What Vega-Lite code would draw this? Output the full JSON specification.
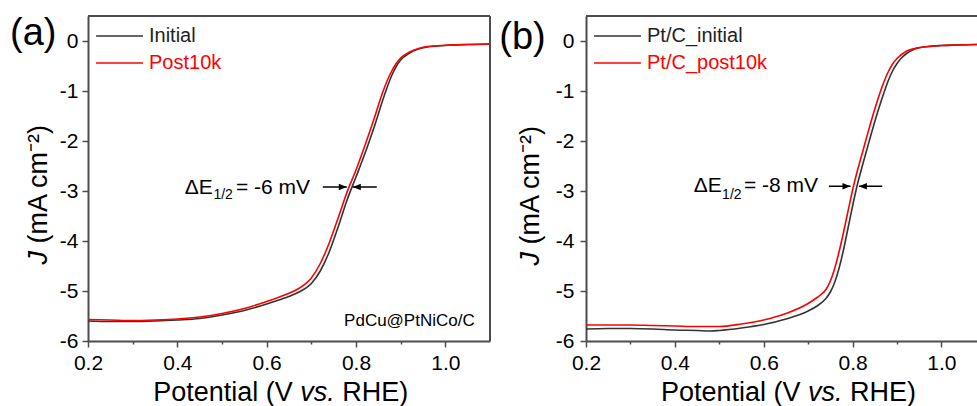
{
  "$schema": "https://vega.github.io/schema/vega-lite/v6.json",
  "background": "white",
  "padding": {"left": 10, "top": 14, "right": 0, "bottom": 0},
  "config": {
    "font": "Liberation Sans",
    "view": {"stroke": null},
    "axis": {"domainColor": "#4d4d4d", "domainWidth": 2, "tickColor": "#4d4d4d", "tickWidth": 1.5, "labelFont": "Liberation Sans", "labelFontSize": 21, "labelColor": "#000000", "grid": false, "labelOverlap": false, "labelFlush": false, "labelBound": false, "title": null},
    "text": {"font": "Liberation Sans", "color": "#000000"}
  },
  "datasets": {
    "curveA": [
      {"series": "Initial", "E": 0.20, "J": -5.60}, {"series": "Initial", "E": 0.25, "J": -5.61}, {"series": "Initial", "E": 0.30, "J": -5.61}, {"series": "Initial", "E": 0.35, "J": -5.60}, {"series": "Initial", "E": 0.40, "J": -5.58}, {"series": "Initial", "E": 0.45, "J": -5.55}, {"series": "Initial", "E": 0.50, "J": -5.48}, {"series": "Initial", "E": 0.55, "J": -5.39}, {"series": "Initial", "E": 0.60, "J": -5.26}, {"series": "Initial", "E": 0.64, "J": -5.14}, {"series": "Initial", "E": 0.67, "J": -5.03}, {"series": "Initial", "E": 0.70, "J": -4.85}, {"series": "Initial", "E": 0.72, "J": -4.60}, {"series": "Initial", "E": 0.74, "J": -4.22}, {"series": "Initial", "E": 0.76, "J": -3.72}, {"series": "Initial", "E": 0.78, "J": -3.18}, {"series": "Initial", "E": 0.80, "J": -2.72}, {"series": "Initial", "E": 0.82, "J": -2.25}, {"series": "Initial", "E": 0.84, "J": -1.74}, {"series": "Initial", "E": 0.86, "J": -1.18}, {"series": "Initial", "E": 0.87, "J": -0.92}, {"series": "Initial", "E": 0.88, "J": -0.69}, {"series": "Initial", "E": 0.89, "J": -0.51}, {"series": "Initial", "E": 0.90, "J": -0.38}, {"series": "Initial", "E": 0.92, "J": -0.24}, {"series": "Initial", "E": 0.94, "J": -0.16}, {"series": "Initial", "E": 0.96, "J": -0.12}, {"series": "Initial", "E": 1.00, "J": -0.09}, {"series": "Initial", "E": 1.05, "J": -0.07}, {"series": "Initial", "E": 1.10, "J": -0.06},
      {"series": "Post10k", "E": 0.20, "J": -5.57}, {"series": "Post10k", "E": 0.25, "J": -5.58}, {"series": "Post10k", "E": 0.30, "J": -5.59}, {"series": "Post10k", "E": 0.35, "J": -5.58}, {"series": "Post10k", "E": 0.40, "J": -5.56}, {"series": "Post10k", "E": 0.45, "J": -5.52}, {"series": "Post10k", "E": 0.50, "J": -5.45}, {"series": "Post10k", "E": 0.55, "J": -5.35}, {"series": "Post10k", "E": 0.60, "J": -5.21}, {"series": "Post10k", "E": 0.64, "J": -5.08}, {"series": "Post10k", "E": 0.67, "J": -4.96}, {"series": "Post10k", "E": 0.70, "J": -4.74}, {"series": "Post10k", "E": 0.72, "J": -4.45}, {"series": "Post10k", "E": 0.74, "J": -4.04}, {"series": "Post10k", "E": 0.76, "J": -3.54}, {"series": "Post10k", "E": 0.78, "J": -3.02}, {"series": "Post10k", "E": 0.80, "J": -2.58}, {"series": "Post10k", "E": 0.82, "J": -2.09}, {"series": "Post10k", "E": 0.84, "J": -1.57}, {"series": "Post10k", "E": 0.86, "J": -1.02}, {"series": "Post10k", "E": 0.87, "J": -0.79}, {"series": "Post10k", "E": 0.88, "J": -0.60}, {"series": "Post10k", "E": 0.89, "J": -0.45}, {"series": "Post10k", "E": 0.90, "J": -0.34}, {"series": "Post10k", "E": 0.92, "J": -0.22}, {"series": "Post10k", "E": 0.94, "J": -0.15}, {"series": "Post10k", "E": 0.96, "J": -0.11}, {"series": "Post10k", "E": 1.00, "J": -0.085}, {"series": "Post10k", "E": 1.05, "J": -0.07}, {"series": "Post10k", "E": 1.10, "J": -0.06}
    ],
    "curveB": [
      {"series": "Pt/C_initial", "E": 0.20, "J": -5.76}, {"series": "Pt/C_initial", "E": 0.25, "J": -5.75}, {"series": "Pt/C_initial", "E": 0.30, "J": -5.75}, {"series": "Pt/C_initial", "E": 0.35, "J": -5.76}, {"series": "Pt/C_initial", "E": 0.40, "J": -5.78}, {"series": "Pt/C_initial", "E": 0.45, "J": -5.79}, {"series": "Pt/C_initial", "E": 0.48, "J": -5.80}, {"series": "Pt/C_initial", "E": 0.50, "J": -5.79}, {"series": "Pt/C_initial", "E": 0.55, "J": -5.74}, {"series": "Pt/C_initial", "E": 0.60, "J": -5.67}, {"series": "Pt/C_initial", "E": 0.65, "J": -5.56}, {"series": "Pt/C_initial", "E": 0.70, "J": -5.40}, {"series": "Pt/C_initial", "E": 0.72, "J": -5.30}, {"series": "Pt/C_initial", "E": 0.74, "J": -5.15}, {"series": "Pt/C_initial", "E": 0.75, "J": -5.02}, {"series": "Pt/C_initial", "E": 0.76, "J": -4.82}, {"series": "Pt/C_initial", "E": 0.77, "J": -4.53}, {"series": "Pt/C_initial", "E": 0.78, "J": -4.16}, {"series": "Pt/C_initial", "E": 0.79, "J": -3.73}, {"series": "Pt/C_initial", "E": 0.80, "J": -3.30}, {"series": "Pt/C_initial", "E": 0.81, "J": -2.90}, {"series": "Pt/C_initial", "E": 0.82, "J": -2.56}, {"series": "Pt/C_initial", "E": 0.83, "J": -2.24}, {"series": "Pt/C_initial", "E": 0.84, "J": -1.92}, {"series": "Pt/C_initial", "E": 0.85, "J": -1.61}, {"series": "Pt/C_initial", "E": 0.86, "J": -1.32}, {"series": "Pt/C_initial", "E": 0.87, "J": -1.05}, {"series": "Pt/C_initial", "E": 0.88, "J": -0.80}, {"series": "Pt/C_initial", "E": 0.89, "J": -0.60}, {"series": "Pt/C_initial", "E": 0.90, "J": -0.45}, {"series": "Pt/C_initial", "E": 0.91, "J": -0.34}, {"series": "Pt/C_initial", "E": 0.92, "J": -0.26}, {"series": "Pt/C_initial", "E": 0.94, "J": -0.16}, {"series": "Pt/C_initial", "E": 0.97, "J": -0.11}, {"series": "Pt/C_initial", "E": 1.00, "J": -0.09}, {"series": "Pt/C_initial", "E": 1.04, "J": -0.08}, {"series": "Pt/C_initial", "E": 1.08, "J": -0.07},
      {"series": "Pt/C_post10k", "E": 0.20, "J": -5.68}, {"series": "Pt/C_post10k", "E": 0.25, "J": -5.68}, {"series": "Pt/C_post10k", "E": 0.30, "J": -5.68}, {"series": "Pt/C_post10k", "E": 0.35, "J": -5.69}, {"series": "Pt/C_post10k", "E": 0.40, "J": -5.70}, {"series": "Pt/C_post10k", "E": 0.45, "J": -5.71}, {"series": "Pt/C_post10k", "E": 0.50, "J": -5.71}, {"series": "Pt/C_post10k", "E": 0.55, "J": -5.66}, {"series": "Pt/C_post10k", "E": 0.60, "J": -5.58}, {"series": "Pt/C_post10k", "E": 0.65, "J": -5.45}, {"series": "Pt/C_post10k", "E": 0.70, "J": -5.25}, {"series": "Pt/C_post10k", "E": 0.72, "J": -5.13}, {"series": "Pt/C_post10k", "E": 0.74, "J": -4.97}, {"series": "Pt/C_post10k", "E": 0.75, "J": -4.80}, {"series": "Pt/C_post10k", "E": 0.76, "J": -4.54}, {"series": "Pt/C_post10k", "E": 0.77, "J": -4.20}, {"series": "Pt/C_post10k", "E": 0.78, "J": -3.81}, {"series": "Pt/C_post10k", "E": 0.79, "J": -3.39}, {"series": "Pt/C_post10k", "E": 0.80, "J": -2.98}, {"series": "Pt/C_post10k", "E": 0.81, "J": -2.62}, {"series": "Pt/C_post10k", "E": 0.82, "J": -2.30}, {"series": "Pt/C_post10k", "E": 0.83, "J": -1.98}, {"series": "Pt/C_post10k", "E": 0.84, "J": -1.66}, {"series": "Pt/C_post10k", "E": 0.85, "J": -1.36}, {"series": "Pt/C_post10k", "E": 0.86, "J": -1.08}, {"series": "Pt/C_post10k", "E": 0.87, "J": -0.83}, {"series": "Pt/C_post10k", "E": 0.88, "J": -0.62}, {"series": "Pt/C_post10k", "E": 0.89, "J": -0.46}, {"series": "Pt/C_post10k", "E": 0.90, "J": -0.35}, {"series": "Pt/C_post10k", "E": 0.92, "J": -0.21}, {"series": "Pt/C_post10k", "E": 0.94, "J": -0.15}, {"series": "Pt/C_post10k", "E": 0.97, "J": -0.11}, {"series": "Pt/C_post10k", "E": 1.00, "J": -0.09}, {"series": "Pt/C_post10k", "E": 1.04, "J": -0.08}, {"series": "Pt/C_post10k", "E": 1.08, "J": -0.07}
    ],
    "annA": [
      {"kind": "panel", "E": 0.0255, "J": -0.08, "t": "(a)"},
      {"kind": "sample", "E": 1.0658, "J": -5.7, "t": "PdCu@PtNiCo/C"},
      {"kind": "pre", "E": 0.4796, "J": -3.06, "t": "ΔE"},
      {"kind": "sub", "E": 0.4807, "J": -3.16, "t": "1/2"},
      {"kind": "post", "E": 0.5311, "J": -3.06, "t": "= -6 mV"},
      {"kind": "arrowR", "E": 0.7257, "E2": 0.7794, "J": -2.92},
      {"kind": "arrowL", "E": 0.8465, "E2": 0.7928, "J": -2.92},
      {"kind": "xt1", "E": 0.6586, "J": -7.2, "t": "Potential (V"},
      {"kind": "xt2", "E": 0.6754, "J": -7.2, "t": "vs."},
      {"kind": "xt3", "E": 0.7694, "J": -7.2, "t": "RHE)"},
      {"kind": "yt1", "E": 0.1083, "J": -4.2, "t": "J"},
      {"kind": "yt2", "E": 0.1083, "J": -4.05, "t": "(mA cm⁻²)"}
    ],
    "annB": [
      {"kind": "panel", "E": 0.0049, "J": -0.15, "t": "(b)"},
      {"kind": "pre", "E": 0.5056, "J": -3.02, "t": "ΔE"},
      {"kind": "sub", "E": 0.5063, "J": -3.15, "t": "1/2"},
      {"kind": "post", "E": 0.5556, "J": -3.02, "t": "= -8 mV"},
      {"kind": "arrowR", "E": 0.7466, "E2": 0.7953, "J": -2.905},
      {"kind": "arrowL", "E": 0.8667, "E2": 0.8142, "J": -2.905},
      {"kind": "xt1", "E": 0.6830, "J": -7.2, "t": "Potential (V"},
      {"kind": "xt2", "E": 0.6999, "J": -7.2, "t": "vs."},
      {"kind": "xt3", "E": 0.7944, "J": -7.2, "t": "RHE)"},
      {"kind": "yt1", "E": 0.0942, "J": -4.22, "t": "J"},
      {"kind": "yt2", "E": 0.0942, "J": -4.07, "t": "(mA cm⁻²)"}
    ]
  },
  "spacing": 96,
  "bounds": "flush",
  "resolve": {"scale": {"color": "independent"}, "legend": {"color": "independent"}},
  "hconcat": [
    {
      "width": 402,
      "height": 325,
      "layer": [
        {
          "data": {"name": "curveA"},
          "mark": {"type": "line", "strokeWidth": 1.6, "interpolate": "monotone"},
          "encoding": {
            "x": {"field": "E", "type": "quantitative", "scale": {"domain": [0.2, 1.1], "nice": false, "zero": false},
              "axis": {"values": [0.2, 0.3, 0.4, 0.5, 0.6, 0.7, 0.8, 0.9, 1.0], "tickSize": {"condition": {"test": "round(datum.value*10) % 2 === 0", "value": 6}, "value": 3}, "labelExpr": "round(datum.value*10) % 2 === 0 ? format(datum.value, '.1f') : ''", "labelPadding": 5, "title": null}},
            "y": {"field": "J", "type": "quantitative", "scale": {"domain": [-6, 0.5], "nice": false, "zero": false},
              "axis": {"values": [-6, -5.5, -5, -4.5, -4, -3.5, -3, -2.5, -2, -1.5, -1, -0.5, 0], "tickSize": {"condition": {"test": "datum.value % 1 === 0", "value": 6}, "value": 3}, "labelExpr": "datum.value % 1 === 0 ? replace(format(datum.value, 'd'), '\u2212', '-') : ''", "labelPadding": 4, "title": null}},
            "color": {"field": "series", "type": "nominal", "scale": {"domain": ["Initial", "Post10k"], "range": ["#333333", "#ff0000"]},
              "legend": {"orient": "top-left", "offset": 7, "title": null, "symbolType": "stroke", "symbolSize": 2200, "symbolStrokeWidth": 1.6, "labelFont": "Liberation Sans", "labelFontSize": 20, "labelOffset": 5, "clipHeight": 26, "rowPadding": 1, "padding": 0,
                "encode": {"labels": {"update": {"fill": {"signal": "indexof(lower(datum.value), 'post10k') >= 0 ? '#ff0000' : '#222222'"}}}}}}
          }
        },
        {
          "data": {"values": [{"J": 0.5}]},
          "mark": {"type": "rule", "color": "#4d4d4d", "strokeWidth": 2},
          "encoding": {"y": {"field": "J", "type": "quantitative"}}
        },
        {
          "data": {"values": [{"E": 1.1}]},
          "mark": {"type": "rule", "color": "#4d4d4d", "strokeWidth": 2},
          "encoding": {"x": {"field": "E", "type": "quantitative"}}
        },
        {
          "data": {"name": "annA"},
          "transform": [{"filter": "datum.kind === 'panel'"}],
          "mark": {"type": "text", "fontSize": 38, "align": "left", "baseline": "alphabetic"},
          "encoding": {"x": {"field": "E", "type": "quantitative"}, "y": {"field": "J", "type": "quantitative"}, "text": {"field": "t"}}
        },
        {
          "data": {"name": "annA"},
          "transform": [{"filter": "datum.kind === 'sample'"}],
          "mark": {"type": "text", "fontSize": 17, "align": "right", "baseline": "alphabetic"},
          "encoding": {"x": {"field": "E", "type": "quantitative"}, "y": {"field": "J", "type": "quantitative"}, "text": {"field": "t"}}
        },
        {
          "data": {"name": "annA"},
          "transform": [{"filter": "datum.kind === 'pre'"}],
          "mark": {"type": "text", "fontSize": 21, "align": "right", "baseline": "alphabetic"},
          "encoding": {"x": {"field": "E", "type": "quantitative"}, "y": {"field": "J", "type": "quantitative"}, "text": {"field": "t"}}
        },
        {
          "data": {"name": "annA"},
          "transform": [{"filter": "datum.kind === 'sub'"}],
          "mark": {"type": "text", "fontSize": 14, "align": "left", "baseline": "alphabetic"},
          "encoding": {"x": {"field": "E", "type": "quantitative"}, "y": {"field": "J", "type": "quantitative"}, "text": {"field": "t"}}
        },
        {
          "data": {"name": "annA"},
          "transform": [{"filter": "datum.kind === 'post'"}],
          "mark": {"type": "text", "fontSize": 21, "align": "left", "baseline": "alphabetic"},
          "encoding": {"x": {"field": "E", "type": "quantitative"}, "y": {"field": "J", "type": "quantitative"}, "text": {"field": "t"}}
        },
        {
          "data": {"name": "annA"},
          "transform": [{"filter": "datum.kind === 'xt1'"}],
          "mark": {"type": "text", "fontSize": 27, "align": "right", "baseline": "alphabetic"},
          "encoding": {"x": {"field": "E", "type": "quantitative"}, "y": {"field": "J", "type": "quantitative"}, "text": {"field": "t"}}
        },
        {
          "data": {"name": "annA"},
          "transform": [{"filter": "datum.kind === 'xt2'"}],
          "mark": {"type": "text", "fontSize": 27, "fontStyle": "italic", "align": "left", "baseline": "alphabetic"},
          "encoding": {"x": {"field": "E", "type": "quantitative"}, "y": {"field": "J", "type": "quantitative"}, "text": {"field": "t"}}
        },
        {
          "data": {"name": "annA"},
          "transform": [{"filter": "datum.kind === 'xt3'"}],
          "mark": {"type": "text", "fontSize": 27, "align": "left", "baseline": "alphabetic"},
          "encoding": {"x": {"field": "E", "type": "quantitative"}, "y": {"field": "J", "type": "quantitative"}, "text": {"field": "t"}}
        },
        {
          "data": {"name": "annA"},
          "transform": [{"filter": "datum.kind === 'yt1'"}],
          "mark": {"type": "text", "fontSize": 27, "fontStyle": "italic", "angle": 270, "align": "right", "baseline": "alphabetic"},
          "encoding": {"x": {"field": "E", "type": "quantitative"}, "y": {"field": "J", "type": "quantitative"}, "text": {"field": "t"}}
        },
        {
          "data": {"name": "annA"},
          "transform": [{"filter": "datum.kind === 'yt2'"}],
          "mark": {"type": "text", "fontSize": 27, "angle": 270, "align": "left", "baseline": "alphabetic"},
          "encoding": {"x": {"field": "E", "type": "quantitative"}, "y": {"field": "J", "type": "quantitative"}, "text": {"field": "t"}}
        },
        {
          "data": {"name": "annA"},
          "transform": [{"filter": "datum.kind === 'arrowR' || datum.kind === 'arrowL'"}],
          "mark": {"type": "rule", "color": "#000000", "strokeWidth": 1.5},
          "encoding": {"x": {"field": "E", "type": "quantitative"}, "x2": {"field": "E2"}, "y": {"field": "J", "type": "quantitative"}}
        },
        {
          "data": {"name": "annA"},
          "transform": [{"filter": "datum.kind === 'arrowR'"}],
          "mark": {"type": "point", "shape": "M0,0L-1,-0.4L-1,0.4Z", "filled": true, "size": 256, "color": "#000000", "opacity": 1},
          "encoding": {"x": {"field": "E2", "type": "quantitative"}, "y": {"field": "J", "type": "quantitative"}}
        },
        {
          "data": {"name": "annA"},
          "transform": [{"filter": "datum.kind === 'arrowL'"}],
          "mark": {"type": "point", "shape": "M0,0L1,-0.4L1,0.4Z", "filled": true, "size": 256, "color": "#000000", "opacity": 1},
          "encoding": {"x": {"field": "E2", "type": "quantitative"}, "y": {"field": "J", "type": "quantitative"}}
        }
      ]
    },
    {
      "width": 391,
      "height": 325,
      "layer": [
        {
          "data": {"name": "curveB"},
          "mark": {"type": "line", "strokeWidth": 1.6, "interpolate": "monotone"},
          "encoding": {
            "x": {"field": "E", "type": "quantitative", "scale": {"domain": [0.2, 1.08], "nice": false, "zero": false},
              "axis": {"values": [0.2, 0.3, 0.4, 0.5, 0.6, 0.7, 0.8, 0.9, 1.0], "tickSize": {"condition": {"test": "round(datum.value*10) % 2 === 0", "value": 6}, "value": 3}, "labelExpr": "round(datum.value*10) % 2 === 0 ? format(datum.value, '.1f') : ''", "labelPadding": 5, "title": null}},
            "y": {"field": "J", "type": "quantitative", "scale": {"domain": [-6, 0.5], "nice": false, "zero": false},
              "axis": {"values": [-6, -5.5, -5, -4.5, -4, -3.5, -3, -2.5, -2, -1.5, -1, -0.5, 0], "tickSize": {"condition": {"test": "datum.value % 1 === 0", "value": 6}, "value": 3}, "labelExpr": "datum.value % 1 === 0 ? replace(format(datum.value, 'd'), '\u2212', '-') : ''", "labelPadding": 6, "title": null}},
            "color": {"field": "series", "type": "nominal", "scale": {"domain": ["Pt/C_initial", "Pt/C_post10k"], "range": ["#333333", "#ff0000"]},
              "legend": {"orient": "top-left", "offset": 7, "title": null, "symbolType": "stroke", "symbolSize": 2200, "symbolStrokeWidth": 1.6, "labelFont": "Liberation Sans", "labelFontSize": 20, "labelOffset": 5, "clipHeight": 26, "rowPadding": 1, "padding": 0,
                "encode": {"labels": {"update": {"fill": {"signal": "indexof(lower(datum.value), 'post10k') >= 0 ? '#ff0000' : '#222222'"}}}}}}
          }
        },
        {
          "data": {"values": [{"J": 0.5}]},
          "mark": {"type": "rule", "color": "#4d4d4d", "strokeWidth": 2},
          "encoding": {"y": {"field": "J", "type": "quantitative"}}
        },
        {
          "data": {"name": "annB"},
          "transform": [{"filter": "datum.kind === 'panel'"}],
          "mark": {"type": "text", "fontSize": 38, "align": "left", "baseline": "alphabetic"},
          "encoding": {"x": {"field": "E", "type": "quantitative"}, "y": {"field": "J", "type": "quantitative"}, "text": {"field": "t"}}
        },
        {
          "data": {"name": "annB"},
          "transform": [{"filter": "datum.kind === 'pre'"}],
          "mark": {"type": "text", "fontSize": 21, "align": "right", "baseline": "alphabetic"},
          "encoding": {"x": {"field": "E", "type": "quantitative"}, "y": {"field": "J", "type": "quantitative"}, "text": {"field": "t"}}
        },
        {
          "data": {"name": "annB"},
          "transform": [{"filter": "datum.kind === 'sub'"}],
          "mark": {"type": "text", "fontSize": 14, "align": "left", "baseline": "alphabetic"},
          "encoding": {"x": {"field": "E", "type": "quantitative"}, "y": {"field": "J", "type": "quantitative"}, "text": {"field": "t"}}
        },
        {
          "data": {"name": "annB"},
          "transform": [{"filter": "datum.kind === 'post'"}],
          "mark": {"type": "text", "fontSize": 21, "align": "left", "baseline": "alphabetic"},
          "encoding": {"x": {"field": "E", "type": "quantitative"}, "y": {"field": "J", "type": "quantitative"}, "text": {"field": "t"}}
        },
        {
          "data": {"name": "annB"},
          "transform": [{"filter": "datum.kind === 'xt1'"}],
          "mark": {"type": "text", "fontSize": 27, "align": "right", "baseline": "alphabetic"},
          "encoding": {"x": {"field": "E", "type": "quantitative"}, "y": {"field": "J", "type": "quantitative"}, "text": {"field": "t"}}
        },
        {
          "data": {"name": "annB"},
          "transform": [{"filter": "datum.kind === 'xt2'"}],
          "mark": {"type": "text", "fontSize": 27, "fontStyle": "italic", "align": "left", "baseline": "alphabetic"},
          "encoding": {"x": {"field": "E", "type": "quantitative"}, "y": {"field": "J", "type": "quantitative"}, "text": {"field": "t"}}
        },
        {
          "data": {"name": "annB"},
          "transform": [{"filter": "datum.kind === 'xt3'"}],
          "mark": {"type": "text", "fontSize": 27, "align": "left", "baseline": "alphabetic"},
          "encoding": {"x": {"field": "E", "type": "quantitative"}, "y": {"field": "J", "type": "quantitative"}, "text": {"field": "t"}}
        },
        {
          "data": {"name": "annB"},
          "transform": [{"filter": "datum.kind === 'yt1'"}],
          "mark": {"type": "text", "fontSize": 27, "fontStyle": "italic", "angle": 270, "align": "right", "baseline": "alphabetic"},
          "encoding": {"x": {"field": "E", "type": "quantitative"}, "y": {"field": "J", "type": "quantitative"}, "text": {"field": "t"}}
        },
        {
          "data": {"name": "annB"},
          "transform": [{"filter": "datum.kind === 'yt2'"}],
          "mark": {"type": "text", "fontSize": 27, "angle": 270, "align": "left", "baseline": "alphabetic"},
          "encoding": {"x": {"field": "E", "type": "quantitative"}, "y": {"field": "J", "type": "quantitative"}, "text": {"field": "t"}}
        },
        {
          "data": {"name": "annB"},
          "transform": [{"filter": "datum.kind === 'arrowR' || datum.kind === 'arrowL'"}],
          "mark": {"type": "rule", "color": "#000000", "strokeWidth": 1.5},
          "encoding": {"x": {"field": "E", "type": "quantitative"}, "x2": {"field": "E2"}, "y": {"field": "J", "type": "quantitative"}}
        },
        {
          "data": {"name": "annB"},
          "transform": [{"filter": "datum.kind === 'arrowR'"}],
          "mark": {"type": "point", "shape": "M0,0L-1,-0.4L-1,0.4Z", "filled": true, "size": 256, "color": "#000000", "opacity": 1},
          "encoding": {"x": {"field": "E2", "type": "quantitative"}, "y": {"field": "J", "type": "quantitative"}}
        },
        {
          "data": {"name": "annB"},
          "transform": [{"filter": "datum.kind === 'arrowL'"}],
          "mark": {"type": "point", "shape": "M0,0L1,-0.4L1,0.4Z", "filled": true, "size": 256, "color": "#000000", "opacity": 1},
          "encoding": {"x": {"field": "E2", "type": "quantitative"}, "y": {"field": "J", "type": "quantitative"}}
        }
      ]
    }
  ]
}
